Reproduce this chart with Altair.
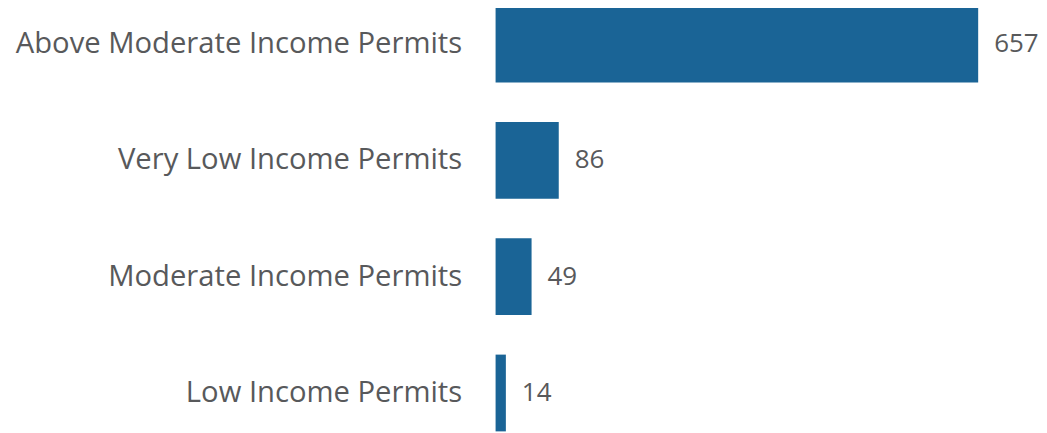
import altair as alt
import pandas as pd

categories = ["Above Moderate Income Permits", "Very Low Income Permits",
              "Moderate Income Permits", "Low Income Permits"]
values = [657, 86, 49, 14]

df = pd.DataFrame({"category": categories, "value": values})

font = "Open Sans"
bar_color = "#1a6496"
text_color = "#58595b"

y = alt.Y("category:N", sort=categories,
          scale=alt.Scale(paddingInner=0.34, paddingOuter=0),
          axis=alt.Axis(title=None, domain=False, ticks=False, labelFont=font,
                        labelFontSize=29.3, labelColor=text_color, labelPadding=34,
                        labelLimit=700))
x = alt.X("value:Q", scale=alt.Scale(domain=[0, 657], nice=False),
          axis=None)

bars = alt.Chart(df).mark_bar(color=bar_color).encode(x=x, y=y)
labels = alt.Chart(df).mark_text(align="left", baseline="middle", dx=16,
                                 font=font, fontSize=26, color=text_color).encode(
    x=x, y=y, text=alt.Text("value:Q"))

chart = (bars + labels).properties(
    width=484, height=427,
    padding={"left": 7, "top": -3, "right": 0, "bottom": 0},
).configure_view(stroke=None)

chart.save("out.html", embed_options={"renderer": "svg", "actions": False})
